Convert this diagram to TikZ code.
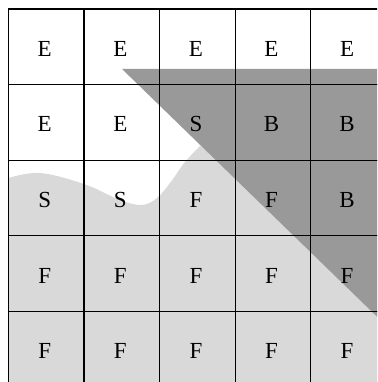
\documentclass[tikz,border=0pt]{standalone}
\usepackage{fontspec}
\setmainfont{Liberation Serif}
\definecolor{lightregion}{gray}{0.85}
\definecolor{darkregion}{gray}{0.6}
\begin{document}
\begin{tikzpicture}[x=1pt,y=-1pt,
  cell/.style={draw=black,line width=1.3pt,minimum width=75.6pt,minimum height=75.6pt,
    inner sep=0pt,outer sep=0pt,font=\fontsize{23}{27}\selectfont,text height=19pt,text depth=0pt}]
\useasboundingbox (0,0) rectangle (377,382);
\clip (0,0) rectangle (377,382);
% light region
\fill[lightregion] plot[smooth,tension=0.6] coordinates {(8.4,178) (40,173) (84,184) (120,200) (142,205) (157,198) (170,183) (185,162) (201,145)}
  -- (240,100) -- (400,100) -- (400,400) -- (8.4,400) -- cycle;
% dark triangle
\fill[darkregion] (122,69) -- (400,69) -- (400,339) -- cycle;
% grid cells
\foreach \row [count=\j] in {{E,E,E,E,E},{E,E,S,B,B},{S,S,F,F,B},{F,F,F,F,F},{F,F,F,F,F}}
  \foreach \l [count=\i] in \row
    \node[cell] (c\j\i) at ({8.4+75.6*(\i-0.5)},{9+75.6*(\j-0.5)}) {\hspace*{-3pt}\l};
\end{tikzpicture}
\end{document}
